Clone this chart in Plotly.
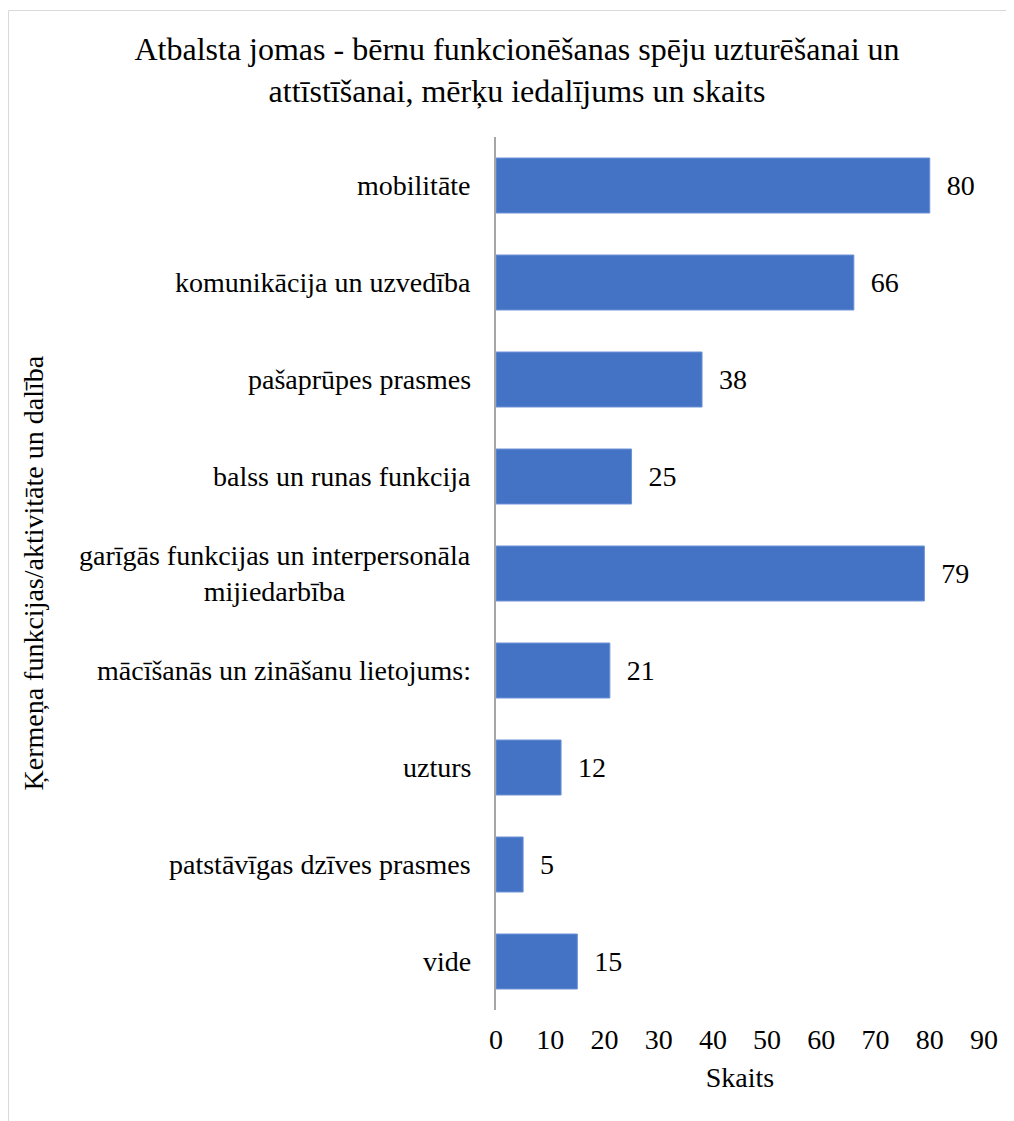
import plotly.graph_objects as go

categories = [
    "mobilitāte",
    "komunikācija un uzvedība",
    "pašaprūpes prasmes",
    "balss un runas funkcija",
    "garīgās funkcijas un interpersonāla<br>mijiedarbība",
    "mācīšanās un zināšanu lietojums:",
    "uzturs",
    "patstāvīgas dzīves prasmes",
    "vide",
]
values = [80, 66, 38, 25, 79, 21, 12, 5, 15]
x_ticks = [0, 10, 20, 30, 40, 50, 60, 70, 80, 90]

title_text = "Atbalsta jomas - bērnu funkcionēšanas spēju uzturēšanai un<br>attīstīšanai, mērķu iedalījums un skaits"
x_title = "Skaits"
y_title = "Ķermeņa funkcijas/aktivitāte un dalība"

FONT = "Liberation Serif, Times New Roman, serif"
FS = 28
W, H = 1006, 1113
L, R, T, B = 488, 30, 129, 111
PW, PH = W - L - R, H - T - B

fig = go.Figure()
fig.add_trace(go.Bar(
    x=values,
    y=categories,
    orientation="h",
    marker=dict(color="#4472C4", line=dict(color="#6E93D6", width=1)),
    text=[f"\u00a0\u00a0{v}" for v in values],
    textposition="outside",
    textfont=dict(family=FONT, size=FS, color="#000000"),
    cliponaxis=False,
    hoverinfo="x+y",
))

annotations = []
for c in categories:
    annotations.append(dict(
        x=0, xref="paper", y=c, yref="y",
        text=c, showarrow=False, xanchor="right", yanchor="middle",
        align="center", xshift=-23,
        font=dict(family=FONT, size=FS, color="#000000"),
    ))
annotations.append(dict(
    x=(25 - L) / PW, xref="paper", y=0.5, yref="paper",
    text=y_title, textangle=-90, showarrow=False,
    xanchor="center", yanchor="middle",
    font=dict(family=FONT, size=FS, color="#000000"),
))

fig.update_layout(
    width=W, height=H,
    margin=dict(l=L, r=R, t=T, b=B, autoexpand=False),
    paper_bgcolor="white",
    plot_bgcolor="white",
    showlegend=False,
    bargap=0.433,
    title=dict(
        text=title_text, x=509 / W, xref="container", xanchor="center",
        y=1 - 52 / H, yanchor="middle",
        font=dict(family=FONT, size=32, color="#000000"),
    ),
    xaxis=dict(
        range=[0, 90], tickvals=x_ticks, ticktext=[str(t) for t in x_ticks],
        showgrid=False, zeroline=False, showline=False, ticks="",
        ticklabelstandoff=10,
        tickfont=dict(family=FONT, size=FS, color="#000000"),
        title=dict(text=x_title, standoff=13,
                   font=dict(family=FONT, size=FS, color="#000000")),
        fixedrange=True,
    ),
    yaxis=dict(
        categoryorder="array", categoryarray=categories[::-1],
        showticklabels=False, ticks="", showgrid=False, zeroline=False,
        showline=True, linecolor="#A6A6A6", linewidth=1.5,
        fixedrange=True,
    ),
    annotations=annotations,
    shapes=[dict(
        type="rect", xref="paper", yref="paper",
        x0=(0.5 - L) / PW, x1=(W + 50 - L) / PW,
        y0=-(B + 50) / PH, y1=1 + (T - 2.5) / PH,
        line=dict(color="#D9D9D9", width=1), fillcolor="rgba(0,0,0,0)",
        layer="below",
    )],
)

fig.write_html("out.html")
